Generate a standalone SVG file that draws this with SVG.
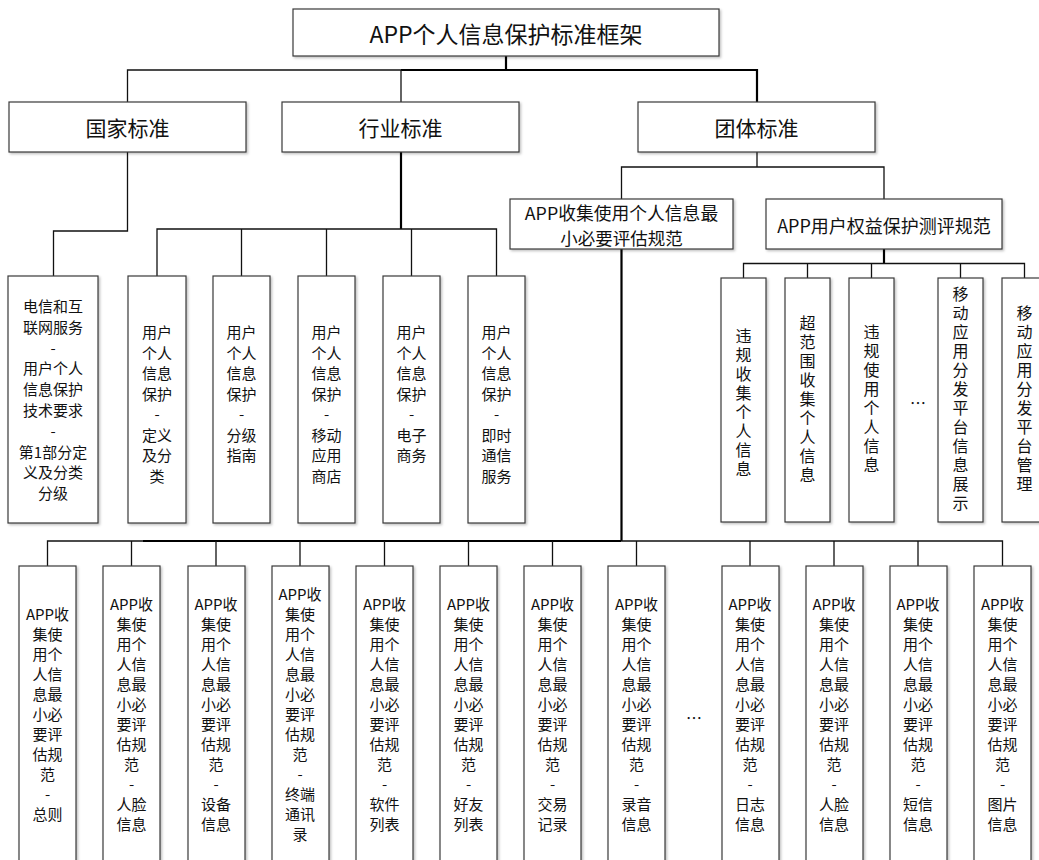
<svg xmlns="http://www.w3.org/2000/svg" width="1039" height="860" viewBox="0 0 1039 860">
<defs>
<filter id="sh" x="-10%" y="-10%" width="130%" height="130%">
<feDropShadow dx="1.5" dy="1.5" stdDeviation="1.2" flood-color="#000" flood-opacity="0.25"/>
</filter>
<style>
.box{fill:#fff;stroke:#3a3a3a;stroke-width:1.2;filter:url(#sh)}
.t{font-family:"Noto Sans CJK SC","Noto Sans",sans-serif;fill:#111;text-anchor:middle;dominant-baseline:central}
.v{font-family:"Noto Sans CJK SC","Noto Sans",sans-serif;fill:#111;text-anchor:middle;writing-mode:vertical-rl;text-orientation:upright;font-size:16px;letter-spacing:3px}
.c{fill:none;stroke:#111;stroke-width:1.3}
.k{fill:none;stroke:#000;stroke-width:2.2}
.s15{font-size:15px}
.s16{font-size:16px}
</style>
</defs>
<rect width="1039" height="860" fill="#fff"/>

<g id="connectors">
<path class="k" d="M506,56 V70"/>
<path class="c" d="M127.5,102 V70 H401"/>
<path class="k" d="M401,70 H757 V102"/>
<path class="c" d="M401,70 V102"/>
<path class="c" d="M127.5,152 V231 H53.5 V276"/>
<path class="k" d="M401,152 V229"/>
<path class="c" d="M157,276 V229 H496.5 V276 M241.5,229 V276 M326.5,229 V276 M411.5,229 V276"/>
<path class="c" d="M757,152 V167 M621.5,199 V167 H884 V199"/>
<path class="k" d="M884,249 V263.5"/>
<path class="c" d="M743.5,278 V263.5 H1024.5 V278 M807.5,263.5 V278 M871.5,263.5 V278 M960.5,263.5 V278"/>
<path class="k" d="M621.5,249 V541 M143,541 H621.5"/>
<path class="c" d="M47.5,566 V541 H143 M621.5,541 H1002.5 V566 M131.5,541 V566 M216,541 V566 M300,541 V566 M384.5,541 V566 M468.5,541 V566 M552.5,541 V566 M636.5,541 V566 M750,541 V566 M834,541 V566 M918,541 V566"/>
</g>

<g id="n-root"><rect class="box" x="293" y="9" width="426" height="47"/><text class="t" x="506" y="33" font-size="23">APP个人信息保护标准框架</text></g>
<g id="n-guojia"><rect class="box" x="9" y="102" width="237" height="50"/><text class="t" x="127.5" y="127" font-size="21">国家标准</text></g>
<g id="n-hangye"><rect class="box" x="282" y="102" width="237" height="50"/><text class="t" x="400.5" y="127" font-size="21">行业标准</text></g>
<g id="n-tuanti"><rect class="box" x="638" y="102" width="237" height="50"/><text class="t" x="756.5" y="127" font-size="21">团体标准</text></g>
<g id="n-zuixiao"><rect class="box" x="510" y="199" width="223" height="50"/><text class="t" x="621.5" y="211.5" font-size="17.8">APP收集使用个人信息最</text><text class="t" x="621.5" y="237.5" font-size="17.5">小必要评估规范</text></g>
<g id="n-quanyi"><rect class="box" x="766" y="199" width="236" height="50"/><text class="t" x="884" y="224.5" font-size="18">APP用户权益保护测评规范</text></g>

<g id="n-dianxin"><rect class="box" x="8" y="276" width="90" height="247"/>
<text class="t s15" x="53"><tspan x="53" y="305">电信和互</tspan><tspan x="53" y="325.8">联网服务</tspan><tspan x="53" y="346.6">-</tspan><tspan x="53" y="367.4">用户个人</tspan><tspan x="53" y="388.2">信息保护</tspan><tspan x="53" y="409">技术要求</tspan><tspan x="53" y="429.8">-</tspan><tspan x="53" y="450.6">第1部分定</tspan><tspan x="53" y="471.4">义及分类</tspan><tspan x="53" y="492.2">分级</tspan></text></g>

<g id="n-hy1"><rect class="box" x="128" y="276" width="58" height="247"/>
<text class="t s15"><tspan x="157" y="331">用户</tspan><tspan x="157" y="351.5">个人</tspan><tspan x="157" y="372">信息</tspan><tspan x="157" y="392.5">保护</tspan><tspan x="157" y="413">-</tspan><tspan x="157" y="433.5">定义</tspan><tspan x="157" y="454">及分</tspan><tspan x="157" y="474.5">类</tspan></text></g>
<g id="n-hy2"><rect class="box" x="213" y="276" width="57" height="247"/>
<text class="t s15"><tspan x="241.5" y="331">用户</tspan><tspan x="241.5" y="351.5">个人</tspan><tspan x="241.5" y="372">信息</tspan><tspan x="241.5" y="392.5">保护</tspan><tspan x="241.5" y="413">-</tspan><tspan x="241.5" y="433.5">分级</tspan><tspan x="241.5" y="454">指南</tspan></text></g>
<g id="n-hy3"><rect class="box" x="298" y="276" width="57" height="247"/>
<text class="t s15"><tspan x="326.5" y="331">用户</tspan><tspan x="326.5" y="351.5">个人</tspan><tspan x="326.5" y="372">信息</tspan><tspan x="326.5" y="392.5">保护</tspan><tspan x="326.5" y="413">-</tspan><tspan x="326.5" y="433.5">移动</tspan><tspan x="326.5" y="454">应用</tspan><tspan x="326.5" y="474.5">商店</tspan></text></g>
<g id="n-hy4"><rect class="box" x="383" y="276" width="57" height="247"/>
<text class="t s15"><tspan x="411.5" y="331">用户</tspan><tspan x="411.5" y="351.5">个人</tspan><tspan x="411.5" y="372">信息</tspan><tspan x="411.5" y="392.5">保护</tspan><tspan x="411.5" y="413">-</tspan><tspan x="411.5" y="433.5">电子</tspan><tspan x="411.5" y="454">商务</tspan></text></g>
<g id="n-hy5"><rect class="box" x="468" y="276" width="57" height="247"/>
<text class="t s15"><tspan x="496.5" y="331">用户</tspan><tspan x="496.5" y="351.5">个人</tspan><tspan x="496.5" y="372">信息</tspan><tspan x="496.5" y="392.5">保护</tspan><tspan x="496.5" y="413">-</tspan><tspan x="496.5" y="433.5">即时</tspan><tspan x="496.5" y="454">通信</tspan><tspan x="496.5" y="474.5">服务</tspan></text></g>

<g id="n-qy1"><rect class="box" x="721" y="278" width="45" height="244"/>
<text class="v" x="743.5" y="404">违规收集个人信息</text></g>
<g id="n-qy2"><rect class="box" x="785" y="278" width="45" height="244"/>
<text class="v" x="807.5" y="400">超范围收集个人信息</text></g>
<g id="n-qy3"><rect class="box" x="849" y="278" width="45" height="244"/>
<text class="v" x="871.5" y="399.5">违规使用个人信息</text></g>
<g id="n-qy-more"><text class="t s16" x="918" y="402">…</text></g>
<g id="n-qy4"><rect class="box" x="938" y="278" width="45" height="244"/>
<text class="v" x="960.5" y="400.2">移动应用分发平台信息展示</text></g>
<g id="n-qy5"><rect class="box" x="1002" y="278" width="45" height="244"/>
<text class="v" x="1024.5" y="400.3">移动应用分发平台管理</text></g>

<g id="n-b1"><rect class="box" x="19" y="566" width="57" height="300"/>
<text class="t s15"><tspan x="47.5" y="612.7">APP收</tspan><tspan x="47.5" y="632.7">集使</tspan><tspan x="47.5" y="652.7">用个</tspan><tspan x="47.5" y="672.7">人信</tspan><tspan x="47.5" y="692.7">息最</tspan><tspan x="47.5" y="712.7">小必</tspan><tspan x="47.5" y="732.7">要评</tspan><tspan x="47.5" y="752.7">估规</tspan><tspan x="47.5" y="772.7">范</tspan><tspan x="47.5" y="792.7">-</tspan><tspan x="47.5" y="812.7">总则</tspan></text></g>
<g id="n-b2"><rect class="box" x="103" y="566" width="57" height="300"/>
<text class="t s15"><tspan x="131.5" y="602.7">APP收</tspan><tspan x="131.5" y="622.7">集使</tspan><tspan x="131.5" y="642.7">用个</tspan><tspan x="131.5" y="662.7">人信</tspan><tspan x="131.5" y="682.7">息最</tspan><tspan x="131.5" y="702.7">小必</tspan><tspan x="131.5" y="722.7">要评</tspan><tspan x="131.5" y="742.7">估规</tspan><tspan x="131.5" y="762.7">范</tspan><tspan x="131.5" y="782.7">-</tspan><tspan x="131.5" y="802.7">人脸</tspan><tspan x="131.5" y="822.7">信息</tspan></text></g>
<g id="n-b3"><rect class="box" x="188" y="566" width="57" height="300"/>
<text class="t s15"><tspan x="216" y="602.7">APP收</tspan><tspan x="216" y="622.7">集使</tspan><tspan x="216" y="642.7">用个</tspan><tspan x="216" y="662.7">人信</tspan><tspan x="216" y="682.7">息最</tspan><tspan x="216" y="702.7">小必</tspan><tspan x="216" y="722.7">要评</tspan><tspan x="216" y="742.7">估规</tspan><tspan x="216" y="762.7">范</tspan><tspan x="216" y="782.7">-</tspan><tspan x="216" y="802.7">设备</tspan><tspan x="216" y="822.7">信息</tspan></text></g>
<g id="n-b4"><rect class="box" x="272" y="566" width="57" height="300"/>
<text class="t s15"><tspan x="300" y="593">APP收</tspan><tspan x="300" y="613">集使</tspan><tspan x="300" y="633">用个</tspan><tspan x="300" y="653">人信</tspan><tspan x="300" y="673">息最</tspan><tspan x="300" y="693">小必</tspan><tspan x="300" y="713">要评</tspan><tspan x="300" y="733">估规</tspan><tspan x="300" y="753">范</tspan><tspan x="300" y="773">-</tspan><tspan x="300" y="793">终端</tspan><tspan x="300" y="813">通讯</tspan><tspan x="300" y="833">录</tspan></text></g>
<g id="n-b5"><rect class="box" x="356" y="566" width="57" height="300"/>
<text class="t s15"><tspan x="384.5" y="602.7">APP收</tspan><tspan x="384.5" y="622.7">集使</tspan><tspan x="384.5" y="642.7">用个</tspan><tspan x="384.5" y="662.7">人信</tspan><tspan x="384.5" y="682.7">息最</tspan><tspan x="384.5" y="702.7">小必</tspan><tspan x="384.5" y="722.7">要评</tspan><tspan x="384.5" y="742.7">估规</tspan><tspan x="384.5" y="762.7">范</tspan><tspan x="384.5" y="782.7">-</tspan><tspan x="384.5" y="802.7">软件</tspan><tspan x="384.5" y="822.7">列表</tspan></text></g>
<g id="n-b6"><rect class="box" x="440" y="566" width="57" height="300"/>
<text class="t s15"><tspan x="468.5" y="602.7">APP收</tspan><tspan x="468.5" y="622.7">集使</tspan><tspan x="468.5" y="642.7">用个</tspan><tspan x="468.5" y="662.7">人信</tspan><tspan x="468.5" y="682.7">息最</tspan><tspan x="468.5" y="702.7">小必</tspan><tspan x="468.5" y="722.7">要评</tspan><tspan x="468.5" y="742.7">估规</tspan><tspan x="468.5" y="762.7">范</tspan><tspan x="468.5" y="782.7">-</tspan><tspan x="468.5" y="802.7">好友</tspan><tspan x="468.5" y="822.7">列表</tspan></text></g>
<g id="n-b7"><rect class="box" x="524" y="566" width="57" height="300"/>
<text class="t s15"><tspan x="552.5" y="602.7">APP收</tspan><tspan x="552.5" y="622.7">集使</tspan><tspan x="552.5" y="642.7">用个</tspan><tspan x="552.5" y="662.7">人信</tspan><tspan x="552.5" y="682.7">息最</tspan><tspan x="552.5" y="702.7">小必</tspan><tspan x="552.5" y="722.7">要评</tspan><tspan x="552.5" y="742.7">估规</tspan><tspan x="552.5" y="762.7">范</tspan><tspan x="552.5" y="782.7">-</tspan><tspan x="552.5" y="802.7">交易</tspan><tspan x="552.5" y="822.7">记录</tspan></text></g>
<g id="n-b8"><rect class="box" x="608" y="566" width="57" height="300"/>
<text class="t s15"><tspan x="636.5" y="602.7">APP收</tspan><tspan x="636.5" y="622.7">集使</tspan><tspan x="636.5" y="642.7">用个</tspan><tspan x="636.5" y="662.7">人信</tspan><tspan x="636.5" y="682.7">息最</tspan><tspan x="636.5" y="702.7">小必</tspan><tspan x="636.5" y="722.7">要评</tspan><tspan x="636.5" y="742.7">估规</tspan><tspan x="636.5" y="762.7">范</tspan><tspan x="636.5" y="782.7">-</tspan><tspan x="636.5" y="802.7">录音</tspan><tspan x="636.5" y="822.7">信息</tspan></text></g>
<g id="n-b-more"><text class="t s16" x="694" y="717">…</text></g>
<g id="n-b9"><rect class="box" x="722" y="566" width="57" height="300"/>
<text class="t s15"><tspan x="750" y="602.7">APP收</tspan><tspan x="750" y="622.7">集使</tspan><tspan x="750" y="642.7">用个</tspan><tspan x="750" y="662.7">人信</tspan><tspan x="750" y="682.7">息最</tspan><tspan x="750" y="702.7">小必</tspan><tspan x="750" y="722.7">要评</tspan><tspan x="750" y="742.7">估规</tspan><tspan x="750" y="762.7">范</tspan><tspan x="750" y="782.7">-</tspan><tspan x="750" y="802.7">日志</tspan><tspan x="750" y="822.7">信息</tspan></text></g>
<g id="n-b10"><rect class="box" x="806" y="566" width="57" height="300"/>
<text class="t s15"><tspan x="834" y="602.7">APP收</tspan><tspan x="834" y="622.7">集使</tspan><tspan x="834" y="642.7">用个</tspan><tspan x="834" y="662.7">人信</tspan><tspan x="834" y="682.7">息最</tspan><tspan x="834" y="702.7">小必</tspan><tspan x="834" y="722.7">要评</tspan><tspan x="834" y="742.7">估规</tspan><tspan x="834" y="762.7">范</tspan><tspan x="834" y="782.7">-</tspan><tspan x="834" y="802.7">人脸</tspan><tspan x="834" y="822.7">信息</tspan></text></g>
<g id="n-b11"><rect class="box" x="890" y="566" width="57" height="300"/>
<text class="t s15"><tspan x="918" y="602.7">APP收</tspan><tspan x="918" y="622.7">集使</tspan><tspan x="918" y="642.7">用个</tspan><tspan x="918" y="662.7">人信</tspan><tspan x="918" y="682.7">息最</tspan><tspan x="918" y="702.7">小必</tspan><tspan x="918" y="722.7">要评</tspan><tspan x="918" y="742.7">估规</tspan><tspan x="918" y="762.7">范</tspan><tspan x="918" y="782.7">-</tspan><tspan x="918" y="802.7">短信</tspan><tspan x="918" y="822.7">信息</tspan></text></g>
<g id="n-b12"><rect class="box" x="974" y="566" width="57" height="300"/>
<text class="t s15"><tspan x="1002.5" y="602.7">APP收</tspan><tspan x="1002.5" y="622.7">集使</tspan><tspan x="1002.5" y="642.7">用个</tspan><tspan x="1002.5" y="662.7">人信</tspan><tspan x="1002.5" y="682.7">息最</tspan><tspan x="1002.5" y="702.7">小必</tspan><tspan x="1002.5" y="722.7">要评</tspan><tspan x="1002.5" y="742.7">估规</tspan><tspan x="1002.5" y="762.7">范</tspan><tspan x="1002.5" y="782.7">-</tspan><tspan x="1002.5" y="802.7">图片</tspan><tspan x="1002.5" y="822.7">信息</tspan></text></g>
</svg>
